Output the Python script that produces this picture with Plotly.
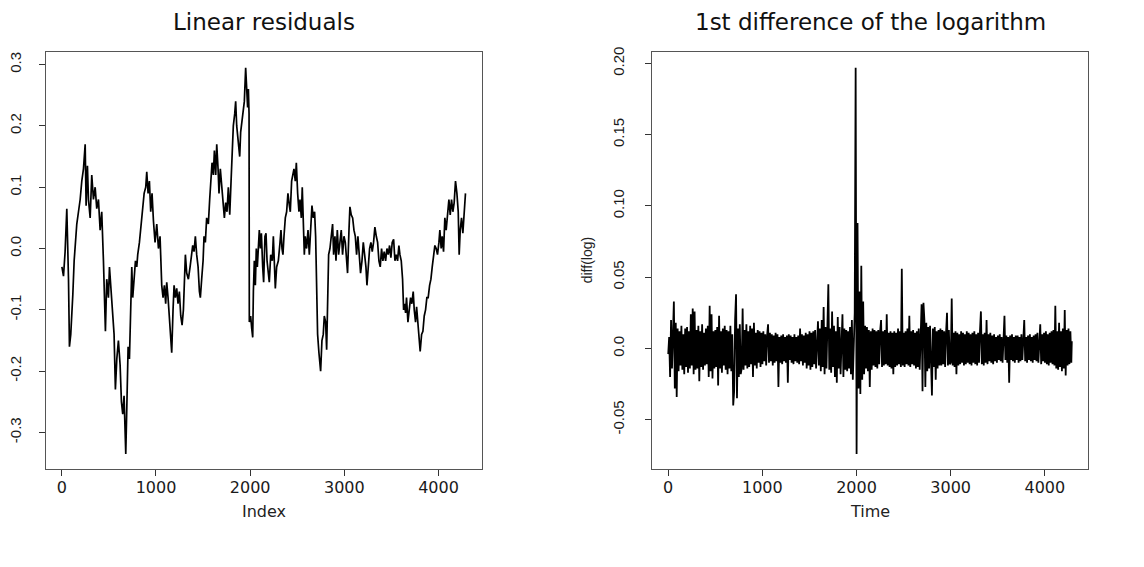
import numpy as np
import plotly.graph_objects as go

# ---- Linear residuals (observation index, residual value) ----
resid_index = [
    1, 18, 35, 53, 71, 81, 95, 106, 117, 131, 141, 159, 177, 195, 212, 230, 248, 258, 272, 283,
    301, 318, 336, 354, 371, 389, 407, 424, 442, 453, 463, 477, 495, 506, 520, 538, 555, 569, 584, 601,
    619, 633, 647, 661, 679, 690, 704, 718, 729, 743, 753, 767, 782, 796, 806, 824, 838, 856, 874, 891,
    902, 916, 930, 944, 958, 973, 990, 1008, 1026, 1043, 1061, 1075, 1089, 1103, 1114, 1128, 1142, 1156, 1167, 1181,
    1192, 1206, 1220, 1234, 1248, 1263, 1277, 1291, 1301, 1312, 1326, 1344, 1362, 1376, 1390, 1404, 1418, 1432, 1447, 1461,
    1471, 1485, 1500, 1510, 1524, 1538, 1556, 1570, 1581, 1595, 1609, 1620, 1634, 1645, 1659, 1669, 1683, 1698, 1715, 1726,
    1740, 1754, 1768, 1783, 1797, 1811, 1821, 1836, 1846, 1857, 1867, 1882, 1889, 1899, 1913, 1924, 1938, 1952, 1963, 1973,
    1981, 1988, 1991, 2005, 2016, 2027, 2034, 2044, 2055, 2065, 2076, 2087, 2097, 2108, 2119, 2133, 2143, 2157, 2168, 2179,
    2193, 2203, 2218, 2235, 2246, 2256, 2267, 2281, 2299, 2317, 2327, 2338, 2348, 2359, 2373, 2387, 2401, 2416, 2426, 2440,
    2454, 2465, 2479, 2490, 2504, 2518, 2529, 2543, 2553, 2564, 2575, 2585, 2599, 2614, 2628, 2642, 2656, 2670, 2684, 2695,
    2706, 2716, 2730, 2748, 2762, 2776, 2787, 2801, 2812, 2822, 2833, 2847, 2861, 2875, 2886, 2900, 2911, 2925, 2939, 2953,
    2967, 2981, 2996, 3010, 3024, 3034, 3049, 3059, 3073, 3088, 3102, 3116, 3130, 3144, 3158, 3172, 3187, 3201, 3215, 3229,
    3240, 3254, 3268, 3282, 3296, 3310, 3324, 3339, 3353, 3367, 3381, 3395, 3409, 3423, 3438, 3452, 3466, 3480, 3494, 3508,
    3523, 3537, 3551, 3565, 3579, 3590, 3604, 3618, 3629, 3639, 3650, 3660, 3675, 3689, 3703, 3717, 3731, 3742, 3756, 3767,
    3781, 3795, 3805, 3820, 3834, 3848, 3862, 3876, 3890, 3905, 3919, 3933, 3947, 3961, 3975, 3989, 4004, 4014, 4028, 4039,
    4053, 4067, 4081, 4096, 4110, 4124, 4138, 4152, 4166, 4180, 4195, 4209, 4219, 4230, 4244, 4258, 4272, 4286,
]
resid_value = [
    -0.03, -0.045, -0.005, 0.065, -0.05, -0.16, -0.14, -0.09, -0.075, -0.02, 0.0, 0.04, 0.06, 0.08, 0.11, 0.13, 0.17, 0.07, 0.135, 0.08,
    0.05, 0.12, 0.08, 0.1, 0.065, 0.08, 0.03, 0.06, -0.02, -0.07, -0.135, -0.05, -0.08, -0.03, -0.06, -0.11, -0.14, -0.23, -0.18, -0.15,
    -0.19, -0.25, -0.27, -0.24, -0.335, -0.26, -0.16, -0.18, -0.09, -0.03, -0.08, -0.05, -0.02, -0.03, -0.01, 0.01, 0.03, 0.06, 0.09, 0.1,
    0.125, 0.09, 0.11, 0.06, 0.09, 0.045, 0.01, 0.04, 0.0, 0.02, -0.06, -0.08, -0.06, -0.09, -0.055, -0.08, -0.11, -0.14, -0.17, -0.1,
    -0.06, -0.08, -0.065, -0.09, -0.07, -0.11, -0.125, -0.1, -0.04, -0.01, -0.04, -0.05, -0.03, -0.01, 0.005, -0.005, 0.02, -0.01, -0.03, -0.07,
    -0.08, -0.05, -0.02, 0.02, 0.01, 0.05, 0.04, 0.08, 0.11, 0.14, 0.12, 0.16, 0.12, 0.17, 0.13, 0.09, 0.13, 0.1, 0.06, 0.05,
    0.075, 0.06, 0.1, 0.055, 0.11, 0.18, 0.2, 0.22, 0.24, 0.2, 0.18, 0.165, 0.15, 0.19, 0.21, 0.22, 0.24, 0.295, 0.27, 0.23,
    0.26, 0.22, -0.12, -0.11, -0.13, -0.145, -0.07, -0.02, -0.06, 0.0, -0.03, 0.015, 0.03, 0.0, 0.025, -0.03, -0.055, 0.02, 0.025, -0.02,
    -0.05, -0.055, -0.01, -0.02, 0.02, -0.04, -0.065, -0.03, -0.02, 0.01, 0.03, 0.0, -0.01, 0.02, 0.05, 0.06, 0.09, 0.07, 0.06, 0.11,
    0.12, 0.13, 0.11, 0.14, 0.09, 0.06, 0.08, 0.05, 0.1, 0.05, -0.01, 0.02, 0.0, 0.03, -0.01, 0.03, 0.07, 0.05, 0.06, 0.02,
    -0.09, -0.14, -0.17, -0.2, -0.15, -0.14, -0.11, -0.12, -0.165, -0.07, -0.01, 0.0, 0.02, 0.04, -0.01, 0.02, -0.02, 0.03, -0.01, 0.01,
    0.03, -0.01, 0.02, 0.01, -0.02, -0.04, 0.03, 0.068, 0.055, 0.05, 0.03, 0.02, -0.01, 0.02, -0.01, -0.04, -0.02, 0.01, -0.01, -0.03,
    -0.06, -0.02, 0.0, 0.01, -0.005, 0.01, 0.035, 0.02, 0.01, -0.02, -0.03, 0.0, -0.02, -0.005, -0.02, 0.0, -0.01, 0.005, -0.015, 0.01,
    0.015, -0.02, -0.01, -0.02, 0.005, -0.01, -0.02, -0.05, -0.1, -0.09, -0.105, -0.08, -0.12, -0.1, -0.08, -0.09, -0.07, -0.1, -0.12, -0.095,
    -0.12, -0.15, -0.168, -0.14, -0.135, -0.11, -0.1, -0.08, -0.08, -0.06, -0.05, -0.03, -0.01, 0.005, 0.0, -0.01, 0.01, 0.03, 0.0, 0.02,
    -0.005, 0.05, 0.03, 0.06, 0.08, 0.055, 0.08, 0.06, 0.075, 0.11, 0.09, 0.06, -0.01, 0.03, 0.05, 0.025, 0.07, 0.09,
]

# ---- 1st difference of the log series, in thousandths, one row per 100 steps ----
diff_time = list(range(1, 4282, 10)) + [4286]
diff_milli = [
    -4, 8, -20, 20, -14, 12, 33, -28, 18, -34,
    14, -16, 12, -12, 16, -15, 10, -18, 14, -13,
    15, -17, 12, -14, 24, -12, 28, -18, 26, -15,
    13, -14, 16, -23, 12, -13, 17, -15, 11, -12,
    14, -11, 16, -20, 30, -16, 24, -21, 12, -14,
    13, -13, 15, -26, 23, -14, 12, -17, 14, -12,
    16, -15, 13, -18, 12, -14, 16, -16, 10, -40,
    -30, 20, 38, -35, 14, -20, 17, -18, -14, 28,
    -15, 13, -12, 17, -14, 12, -13, 16, -11, 14,
    -20, 18, -12, 11, -14, 13, -10, 12, -13, 11,
    -11, 12, -9, 10, -12, 9, 17, -10, 11, -9,
    10, -12, 9, -10, 11, -9, 10, -27, 8, -10,
    9, -11, 10, -9, 8, -10, 9, -24, 10, -8,
    9, -10, 8, -11, 10, -9, 8, -10, 9, -11,
    14, -9, 10, -12, 9, -10, 11, -14, 10, -12,
    12, -15, 11, -13, 12, -11, 13, -14, 12, 19,
    -12, 14, -16, 20, -13, 29, -18, 15, -14, 12,
    45, -15, 14, -17, 26, -13, 16, -20, 12, -24,
    22, -14, 15, -18, 13, 24, -20, 14, -15, 13,
    -16, 12, -14, 15, -18, 20, -22, 16, 25, 197,
    -74, 88, -28, 40, -32, 58, -22, 33, -18, 16,
    -14, 15, -16, 13, -27, 12, -15, 14, -12, 13,
    -13, 12, -14, 13, -11, 12, 20, -13, 12, -12,
    13, -11, 24, -12, 11, -13, 12, -14, 11, -18,
    12, -13, 11, -12, 14, -11, 12, -13, 56, -12,
    11, -13, 12, -11, 14, -12, 23, -13, 12, -11,
    13, -12, 11, -14, 12, -13, 14, -15, 18, 31,
    -30, 32, 20, -27, 18, -16, 15, -14, 16, -18,
    -33, 14, -13, 15, -22, 12, -14, 13, -12, 14,
    -12, 13, -11, 12, -13, 11, 25, -12, 13, -11,
    -10, 35, -12, 11, -13, 12, -18, 11, -12, 10,
    -11, 12, -10, 11, -12, 10, -11, 12, -10, 11,
    -11, 10, -12, 11, -10, 12, -11, 10, -12, 11,
    -10, 12, 26, -11, 10, -12, 11, -10, 20, -11,
    10, -9, 11, -10, 9, -11, 10, -9, 8, -10,
    9, -8, 10, -9, 8, -10, 9, 23, -8, 9,
    -10, 8, -24, 9, -8, 10, -9, 8, -10, 9,
    -8, 9, -10, 8, -9, 10, -8, 9, 20, -9,
    8, -10, 9, -8, 10, -9, 8, -10, 9, -8,
    10, -9, 11, -10, 9, 17, -11, 10, -9, 11,
    -10, 12, -11, 10, -12, 11, -10, 12, -11, 13,
    -12, 30, -14, 12, -15, 18, -13, 12, -16, 14,
    -14, 27, -19, 13, -12, 14, -11, 12, -10,
    5,
]
diff_value = np.array(diff_milli) / 1000.0

x_ticks = [0, 1000, 2000, 3000, 4000]
left_y_ticks = [-0.3, -0.2, -0.1, 0.0, 0.1, 0.2, 0.3]
left_y_text = ["-0.3", "-0.2", "-0.1", "0.0", "0.1", "0.2", "0.3"]
right_y_ticks = [-0.05, 0.0, 0.05, 0.10, 0.15, 0.20]
right_y_text = ["-0.05", "0.0", "0.05", "0.10", "0.15", "0.20"]


def r_range(vals):
    lo, hi = float(np.min(vals)), float(np.max(vals))
    pad = 0.04 * (hi - lo)
    return [lo - pad, hi + pad]


fig = go.Figure()
fig.add_trace(go.Scatter(x=resid_index, y=resid_value, mode="lines",
                         line=dict(color="#000000", width=1.7),
                         xaxis="x", yaxis="y", showlegend=False))
fig.add_trace(go.Scatter(x=diff_time, y=diff_value, mode="lines",
                         line=dict(color="#000000", width=1.8),
                         xaxis="x2", yaxis="y2", showlegend=False))

tick_font_x = dict(family="DejaVu Sans", size=16, color="#1a1a1a")
tick_font_y = dict(family="Liberation Sans Narrow, Liberation Sans, Arial", size=15, color="#1a1a1a")
box = dict(showline=True, mirror=True, linecolor="#555555", linewidth=1,
           showgrid=False, zeroline=False, ticks="outside", ticklen=6,
           tickcolor="#333333", tickwidth=1)

x_span = r_range([1, 4286])
fig.update_layout(
    width=1144, height=567,
    margin=dict(l=0, r=0, t=0, b=0),
    paper_bgcolor="white", plot_bgcolor="white",
    xaxis=dict(domain=[0.040, 0.421], range=x_span, tickvals=x_ticks,
               tickfont=tick_font_x, ticklabelstandoff=-3, anchor="y", **box),
    yaxis=dict(domain=[0.174, 0.9176], range=r_range(resid_value),
               tickvals=left_y_ticks, ticktext=left_y_text, tickangle=-90,
               tickfont=tick_font_y, ticklabelstandoff=12, anchor="x", **box),
    xaxis2=dict(domain=[0.570, 0.951], range=x_span, tickvals=x_ticks,
                tickfont=tick_font_x, ticklabelstandoff=-3, anchor="y2", **box),
    yaxis2=dict(domain=[0.174, 0.9176], range=r_range(diff_value),
                tickvals=right_y_ticks, ticktext=right_y_text, tickangle=-90,
                tickfont=tick_font_y, ticklabelstandoff=15, anchor="x2", **box),
)

title_font = dict(family="DejaVu Sans", size=23, color="#111111")
label_font = dict(family="DejaVu Sans", size=16, color="#222222")
fig.add_annotation(text="Linear residuals", x=0.2305, y=1 - 16 / 567, xref="paper", yref="paper",
                   showarrow=False, font=title_font, xanchor="center", yanchor="middle")
fig.add_annotation(text="1st difference of the logarithm", x=0.7605, y=1 - 16 / 567,
                   xref="paper", yref="paper", showarrow=False, font=title_font,
                   xanchor="center", yanchor="middle")
fig.add_annotation(text="Index", x=0.2305, y=1 - 511 / 567, xref="paper", yref="paper",
                   showarrow=False, font=label_font, xanchor="center", yanchor="middle")
fig.add_annotation(text="Time", x=0.7605, y=1 - 511 / 567, xref="paper", yref="paper",
                   showarrow=False, font=label_font, xanchor="center", yanchor="middle")
fig.add_annotation(text="diff(log)", x=587 / 1144, y=1 - 257 / 567, xref="paper", yref="paper",
                   showarrow=False, textangle=-90,
                   font=dict(family="Liberation Sans", size=14, color="#222222"),
                   xanchor="center", yanchor="middle")

fig.write_html("out.html")
